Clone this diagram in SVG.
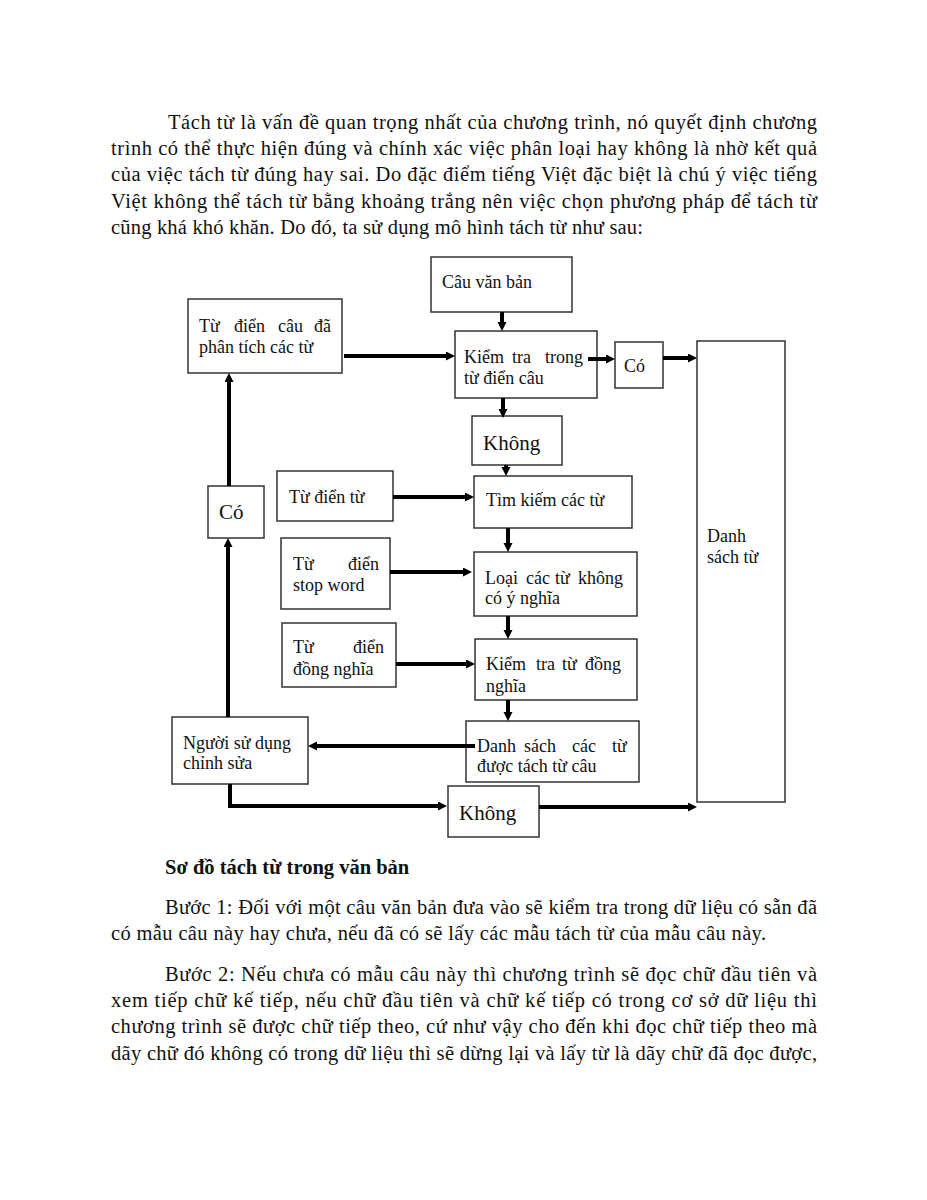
<svg xmlns="http://www.w3.org/2000/svg" width="927" height="1200" viewBox="0 0 927 1200">
<style>
.p{font-family:"Liberation Serif","Times New Roman",serif;font-size:20.5px;fill:#111}
.b{font-weight:bold}
.t{font-family:"Liberation Serif","Times New Roman",serif;font-size:18px;fill:#111}
.big{font-size:21px}
.box{fill:#fff;stroke:#333;stroke-width:1.5}
.c{fill:none;stroke:#000;stroke-width:4}
</style>
<defs>
<marker id="ah" markerUnits="userSpaceOnUse" markerWidth="10" markerHeight="10" refX="1" refY="4.5" orient="auto">
<path d="M0,0 L9,4.5 L0,9 z" fill="#000"/>
</marker>
</defs>
<rect width="927" height="1200" fill="#fff"/>
<g id="para-top">
<text class="p" x="168" y="129" textLength="649" lengthAdjust="spacing">Tách từ là vấn đề quan trọng nhất của chương trình, nó quyết định chương</text>
<text class="p" x="111" y="155" textLength="706" lengthAdjust="spacing">trình có thể thực hiện đúng và chính xác việc phân loại hay không là nhờ kết quả</text>
<text class="p" x="111" y="181" textLength="706" lengthAdjust="spacing">của việc tách từ đúng hay sai. Do đặc điểm tiếng Việt đặc biệt là chú ý việc tiếng</text>
<text class="p" x="111" y="208" textLength="706" lengthAdjust="spacing">Việt không thể tách từ bằng khoảng trắng nên việc chọn phương pháp để tách từ</text>
<text class="p" x="111" y="234" textLength="532" lengthAdjust="spacing">cũng khá khó khăn. Do đó, ta sử dụng mô hình tách từ như sau:</text>
</g>
<g id="n-tudiencau"><rect class="box" x="188" y="299" width="154" height="74"/>
<text class="t" y="332"><tspan x="199">Từ</tspan><tspan x="234">điển</tspan><tspan x="278">câu</tspan><tspan x="314">đã</tspan></text>
<text class="t" x="199" y="353">phân tích các từ</text></g>
<g id="n-cauvanban"><rect class="box" x="431" y="257" width="141" height="55"/>
<text class="t" x="442" y="288">Câu văn bản</text></g>
<g id="n-kiemtracau"><rect class="box" x="455" y="331" width="142" height="67"/>
<text class="t" y="363"><tspan x="464">Kiểm</tspan><tspan x="512">tra</tspan><tspan x="545">trong</tspan></text>
<text class="t" x="464" y="384">từ điển câu</text></g>
<g id="n-co1"><rect class="box" x="615" y="342" width="48" height="46"/>
<text class="t" x="624" y="372">Có</text></g>
<g id="n-danhsachtu"><rect class="box" x="697" y="341" width="88" height="461"/>
<text class="t" x="707" y="542">Danh</text>
<text class="t" x="707" y="563">sách từ</text></g>
<g id="n-khong1"><rect class="box" x="472" y="416" width="90" height="49"/>
<text class="t big" x="483" y="450">Không</text></g>
<g id="n-co2"><rect class="box" x="208" y="486" width="56" height="52"/>
<text class="t big" x="219" y="519">Có</text></g>
<g id="n-tudientu"><rect class="box" x="277" y="471" width="116" height="50"/>
<text class="t" x="289" y="503">Từ điển từ</text></g>
<g id="n-timkiem"><rect class="box" x="474" y="476" width="158" height="52"/>
<text class="t" x="486" y="506">Tìm kiếm các từ</text></g>
<g id="n-stopword"><rect class="box" x="281" y="538" width="109" height="71"/>
<text class="t" x="293" y="570">Từ</text><text class="t" x="379" y="570" text-anchor="end">điển</text>
<text class="t" x="293" y="591">stop word</text></g>
<g id="n-loai"><rect class="box" x="474" y="552" width="163" height="64"/>
<text class="t" y="584"><tspan x="485">Loại</tspan><tspan x="526">các</tspan><tspan x="555">từ</tspan><tspan x="578">không</tspan></text>
<text class="t" x="485" y="604">có ý nghĩa</text></g>
<g id="n-dongnghia"><rect class="box" x="282" y="623" width="114" height="64"/>
<text class="t" x="293" y="653">Từ</text><text class="t" x="384" y="653" text-anchor="end">điển</text>
<text class="t" x="293" y="675">đồng nghĩa</text></g>
<g id="n-kiemtradongnghia"><rect class="box" x="475" y="639" width="162" height="61"/>
<text class="t" y="670"><tspan x="486">Kiểm</tspan><tspan x="536">tra</tspan><tspan x="562">từ</tspan><tspan x="585">đồng</tspan></text>
<text class="t" x="486" y="692">nghĩa</text></g>
<g id="n-danhsachcactu"><rect class="box" x="466" y="721" width="173" height="61"/>
<text class="t" y="752"><tspan x="477">Danh</tspan><tspan x="524">sách</tspan><tspan x="572">các</tspan><tspan x="612">từ</tspan></text>
<text class="t" x="477" y="772">được tách từ câu</text></g>
<g id="n-nguoisudung"><rect class="box" x="172" y="717" width="136" height="67"/>
<text class="t" x="183" y="749">Người sử dụng</text>
<text class="t" x="183" y="769">chỉnh sửa</text></g>
<g id="n-khong2"><rect class="box" x="448" y="786" width="91" height="51"/>
<text class="t big" x="459" y="820">Không</text></g>
<g id="connectors">
<path class="c" d="M502,312 V323" marker-end="url(#ah)"/>
<path class="c" d="M344,356 H447" marker-end="url(#ah)"/>
<path class="c" d="M588,359 H607" marker-end="url(#ah)"/>
<path class="c" d="M663,358 H689" marker-end="url(#ah)"/>
<path class="c" d="M503,398 V410" marker-end="url(#ah)"/>
<path class="c" d="M506,465 V468" marker-end="url(#ah)"/>
<path class="c" d="M393,497 H466" marker-end="url(#ah)"/>
<path class="c" d="M508,528 V544" marker-end="url(#ah)"/>
<path class="c" d="M390,572 H464" marker-end="url(#ah)"/>
<path class="c" d="M508,616 V631" marker-end="url(#ah)"/>
<path class="c" d="M396,664 H467" marker-end="url(#ah)"/>
<path class="c" d="M508,700 V713" marker-end="url(#ah)"/>
<path class="c" d="M475,746 H316" marker-end="url(#ah)"/>
<path class="c" d="M228,717 V546" marker-end="url(#ah)"/>
<path class="c" d="M229,486 V381" marker-end="url(#ah)"/>
<path class="c" d="M230,784 V806 H439" marker-end="url(#ah)"/>
<path class="c" d="M539,807 H689" marker-end="url(#ah)"/>
</g>
<g id="para-bottom">
<text class="p b" x="165" y="874">Sơ đồ tách từ trong văn bản</text>
<text class="p" x="165" y="914" textLength="652" lengthAdjust="spacing">Bước 1: Đối với một câu văn bản đưa vào sẽ kiểm tra trong dữ liệu có sẵn đã</text>
<text class="p" x="111" y="940" textLength="655" lengthAdjust="spacing">có mẫu câu này hay chưa, nếu đã có sẽ lấy các mẫu tách từ của mẫu câu này.</text>
<text class="p" x="165" y="981" textLength="652" lengthAdjust="spacing">Bước 2: Nếu chưa có mẫu câu này thì chương trình sẽ đọc chữ đầu tiên và</text>
<text class="p" x="111" y="1007" textLength="706" lengthAdjust="spacing">xem tiếp chữ kế tiếp, nếu chữ đầu tiên và chữ kế tiếp có trong cơ sở dữ liệu thì</text>
<text class="p" x="111" y="1033" textLength="706" lengthAdjust="spacing">chương trình sẽ được chữ tiếp theo, cứ như vậy cho đến khi đọc chữ tiếp theo mà</text>
<text class="p" x="111" y="1060" textLength="706" lengthAdjust="spacing">dãy chữ đó không có trong dữ liệu thì sẽ dừng lại và lấy từ là dãy chữ đã đọc được,</text>
</g>
</svg>
